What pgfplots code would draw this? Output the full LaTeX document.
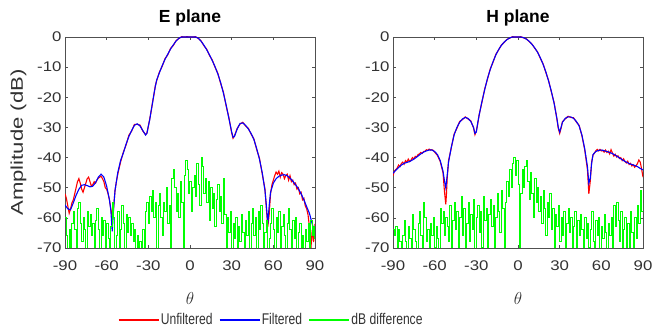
\documentclass[border=0pt]{standalone}
\usepackage{pgfplots}
\pgfplotsset{compat=1.18}
\usepackage{pgfplotstable}
\usepackage{fontspec}
\setmainfont{Liberation Sans}
\newfontfamily\tickfont{Liberation Sans}[FakeStretch=1.2]
\newfontfamily\legfont{Liberation Sans}[FakeStretch=0.78]
\newfontfamily\ylabfont{Liberation Sans}[FakeStretch=1.3]
\definecolor{mred}{RGB}{255,0,0}
\definecolor{mblue}{RGB}{0,0,255}
\definecolor{mgreen}{RGB}{0,255,0}
\definecolor{axgray}{RGB}{80,80,80}
\definecolor{txtgray}{RGB}{50,50,50}

% ---------------- E plane ----------------
\pgfplotstableread[row sep=\\]{x y\\
-90 -55.7\\ -88 -57\\ -86 -57.3\\ -84 -55\\ -82 -52.5\\ -80 -50.5\\ -78 -49.2\\ -76 -49\\ -74 -49.3\\ -72 -49.7\\ -70 -49.5\\ -68 -48.3\\ -66 -46.5\\ -64 -45.5\\ -62 -46.5\\ -60 -49.5\\ -58 -54\\ -57 -57.5\\ -56 -64.5\\ -55 -57\\ -54 -51\\ -52 -45\\ -50 -41\\ -48 -38.5\\ -46 -35.5\\ -44 -33\\ -42 -31\\ -40 -29.3\\ -38 -28.8\\ -36 -29.5\\ -34 -31\\ -32 -32.5\\ -31 -32\\ -30 -29.5\\ -29 -27.5\\ -28 -24.5\\ -27 -22\\ -26 -19\\ -25 -16.5\\ -24 -14.3\\ -22 -11.8\\ -20 -9.5\\ -18 -7.4\\ -16 -5.7\\ -14 -4\\ -12 -2.6\\ -10 -1.3\\ -8 -0.4\\ -6 0\\ -4 0\\ -2 0\\ 0 0\\ 2 0\\ 4 0\\ 6 -0.4\\ 8 -1.4\\ 10 -2.7\\ 12 -4.2\\ 14 -5.9\\ 16 -7.8\\ 18 -9.8\\ 20 -12.2\\ 22 -15\\ 24 -18.5\\ 26 -22.5\\ 28 -27\\ 30 -31.5\\ 31 -33.3\\ 32 -33\\ 34 -30.5\\ 36 -28.7\\ 38 -28.5\\ 40 -29.3\\ 42 -30.5\\ 44 -32\\ 46 -34\\ 48 -37\\ 50 -40.5\\ 52 -45\\ 54 -51\\ 55 -56\\ 56 -62\\ 57 -56\\ 58 -51.5\\ 60 -48.5\\ 62 -47\\ 64 -46.2\\ 66 -45.8\\ 68 -45.7\\ 70 -46\\ 72 -46.8\\ 74 -47.8\\ 76 -49\\ 78 -50.3\\ 80 -52\\ 82 -54\\ 84 -56.3\\ 86 -58.5\\ 88 -62\\ 90 -65\\
}\Eblue

\pgfplotstableread[row sep=\\]{x y\\
-90 -52\\ -89 -53.5\\ -88 -56\\ -87 -58.5\\ -86 -57\\ -85 -55\\ -84 -54\\ -83 -52\\ -82 -50\\ -81 -48\\ -80 -47\\ -79 -48.5\\ -78 -50.5\\ -77 -51.5\\ -76 -50\\ -75 -48.5\\ -74 -47\\ -73 -46.5\\ -72 -48\\ -71 -49.5\\ -70 -49\\ -69 -48\\ -68 -48.5\\ -67 -47.5\\ -66 -46.8\\ -65 -46.5\\ -64 -46.2\\ -63 -47\\ -62 -48\\ -61 -50\\ -60 -50.5\\ -59 -52\\ -58 -54\\ -57 -57\\ -56 -60\\ -55.5 -55\\ -55 -56.5\\ -54 -51\\ -53 -48\\ -52 -45.5\\ -51 -43.5\\ -50 -41.5\\ -48 -38.2\\ -46 -35.8\\ -44 -32.6\\ -42 -31.2\\ -40 -29\\ -38 -29\\ -36 -29.2\\ -34 -31.2\\ -32 -32.4\\ -31 -31.8\\ -30 -29.7\\ -29 -27.2\\ -28 -24.8\\ -27 -21.7\\ -26 -19.3\\ -25 -16.2\\ -24 -14.5\\ -22 -11.6\\ -20 -9.7\\ -18 -7.2\\ -16 -5.9\\ -14 -3.8\\ -12 -2.8\\ -10 -1.2\\ -8 -0.5\\ -6 0.1\\ -4 0\\ -2 0.1\\ 0 0\\ 2 0\\ 4 0.1\\ 6 -0.5\\ 8 -1.3\\ 10 -2.9\\ 12 -4\\ 14 -6.1\\ 16 -7.6\\ 18 -10\\ 20 -12\\ 22 -15.3\\ 24 -18.2\\ 26 -22.8\\ 28 -26.7\\ 30 -31.8\\ 31 -33.6\\ 32 -32.8\\ 34 -30.3\\ 36 -28.9\\ 38 -28.3\\ 40 -29.5\\ 42 -30.3\\ 44 -32.2\\ 46 -33.8\\ 48 -37.3\\ 50 -40.2\\ 52 -45.4\\ 54 -50.5\\ 55 -57\\ 56 -63\\ 57 -59\\ 58 -52\\ 59 -49\\ 60 -47.5\\ 61 -46\\ 62 -44.8\\ 63 -45.5\\ 64 -44.5\\ 65 -46.5\\ 66 -45\\ 67 -45.5\\ 68 -47\\ 69 -46\\ 70 -45.5\\ 71 -47.5\\ 72 -46\\ 73 -48\\ 74 -47.5\\ 75 -49\\ 76 -48.5\\ 77 -50.5\\ 78 -50\\ 79 -52\\ 80 -51.5\\ 81 -54\\ 82 -53.5\\ 83 -56\\ 84 -57\\ 85 -59\\ 86 -63\\ 87 -70.5\\ 88 -64\\ 89 -68\\ 90 -62\\
}\Ered

\pgfplotstableread[row sep=\\]{x y\\
-90 -60\\ -89 -66\\ -88 -72\\ -87 -64\\ -86 -72\\ -85 -62\\ -84 -58\\ -83 -64\\ -82 -72\\ -81 -57\\ -80 -55\\ -79 -62\\ -78 -68\\ -77 -60\\ -76 -64\\ -75 -72\\ -74 -58\\ -73 -63\\ -72 -59\\ -71 -66\\ -70 -62\\ -69 -72\\ -68 -61\\ -67 -57\\ -66 -64\\ -65 -72\\ -64 -60\\ -63 -66\\ -62 -61\\ -61 -72\\ -60 -62\\ -59 -67\\ -58 -72\\ -57 -63\\ -56 -55\\ -55 -60\\ -54 -72\\ -53 -66\\ -52 -58\\ -51 -72\\ -50 -64\\ -49 -56\\ -48 -62\\ -47 -72\\ -46 -59\\ -45 -65\\ -44 -60\\ -43 -66\\ -42 -62\\ -41 -68\\ -40 -64\\ -39 -72\\ -38 -66\\ -37 -72\\ -36 -68\\ -35 -72\\ -34 -64\\ -33 -72\\ -32 -58\\ -31 -55\\ -30 -62\\ -29 -53\\ -28 -58\\ -27 -51\\ -26 -60\\ -25 -55\\ -24 -72\\ -23 -56\\ -22 -52\\ -21 -60\\ -20 -66\\ -19 -55\\ -18 -58\\ -17 -50\\ -16 -62\\ -15 -56\\ -14 -72\\ -13 -47\\ -12 -44\\ -11 -50\\ -10 -58\\ -9 -52\\ -8 -60\\ -7 -48\\ -6 -55\\ -5 -72\\ -4 -46\\ -3 -41\\ -2 -44\\ -1 -52\\ 0 -48\\ 1 -58\\ 2 -50\\ 3 -46\\ 4 -53\\ 5 -42\\ 6 -49\\ 7 -56\\ 8 -40\\ 9 -43\\ 10 -52\\ 11 -47\\ 12 -55\\ 13 -48\\ 14 -61\\ 15 -50\\ 16 -57\\ 17 -52\\ 18 -63\\ 19 -54\\ 20 -49\\ 21 -58\\ 22 -53\\ 23 -62\\ 24 -47\\ 25 -59\\ 26 -72\\ 27 -60\\ 28 -65\\ 29 -58\\ 30 -72\\ 31 -62\\ 32 -67\\ 33 -60\\ 34 -72\\ 35 -63\\ 36 -68\\ 37 -59\\ 38 -65\\ 39 -72\\ 40 -61\\ 41 -66\\ 42 -58\\ 43 -72\\ 44 -62\\ 45 -57\\ 46 -66\\ 47 -60\\ 48 -72\\ 49 -58\\ 50 -64\\ 51 -56\\ 52 -62\\ 53 -72\\ 54 -65\\ 55 -61\\ 56 -72\\ 57 -67\\ 58 -62\\ 59 -57\\ 60 -64\\ 61 -72\\ 62 -60\\ 63 -65\\ 64 -58\\ 65 -72\\ 66 -63\\ 67 -59\\ 68 -66\\ 69 -72\\ 70 -62\\ 71 -57\\ 72 -64\\ 73 -72\\ 74 -61\\ 75 -67\\ 76 -60\\ 77 -72\\ 78 -65\\ 79 -62\\ 80 -72\\ 81 -66\\ 82 -72\\ 83 -64\\ 84 -68\\ 85 -62\\ 86 -72\\ 87 -61\\ 88 -66\\ 89 -63\\ 90 -67\\
}\Egreen

% ---------------- H plane ----------------
\pgfplotstableread[row sep=\\]{x y\\
-90 -45.2\\ -88 -44.2\\ -86 -43.3\\ -84 -42.5\\ -82 -41.9\\ -80 -41.6\\ -78 -41.3\\ -76 -40.8\\ -74 -40.2\\ -72 -39.5\\ -70 -38.8\\ -68 -38.2\\ -66 -37.8\\ -64 -37.5\\ -62 -37.5\\ -60 -38\\ -58 -39\\ -56 -41\\ -54 -44.5\\ -53 -47.5\\ -52 -50\\ -51 -46\\ -50 -41.5\\ -48 -36.5\\ -46 -32.5\\ -44 -30\\ -42 -28.3\\ -40 -27.2\\ -38 -26.7\\ -36 -27\\ -34 -28\\ -32 -30\\ -31 -32\\ -30 -31.5\\ -29 -28.5\\ -28 -26\\ -26 -21.5\\ -24 -17.5\\ -22 -13.8\\ -20 -10.8\\ -18 -8.2\\ -16 -6\\ -14 -4.2\\ -12 -2.8\\ -10 -1.7\\ -8 -0.9\\ -6 -0.3\\ -4 0\\ -2 0\\ 0 0\\ 2 0\\ 4 -0.2\\ 6 -0.7\\ 8 -1.4\\ 10 -2.4\\ 12 -3.6\\ 14 -5\\ 16 -6.8\\ 18 -9\\ 20 -11.5\\ 22 -14.6\\ 24 -18\\ 26 -22\\ 28 -27\\ 29 -30\\ 30 -31.5\\ 31 -30\\ 32 -28.3\\ 34 -27\\ 36 -26.5\\ 38 -26.5\\ 40 -27\\ 42 -28\\ 44 -29.5\\ 46 -32.5\\ 48 -37\\ 50 -43\\ 51 -48.5\\ 52 -47\\ 53 -42\\ 54 -39\\ 56 -38\\ 58 -37.6\\ 60 -37.5\\ 62 -37.7\\ 64 -38\\ 66 -38.3\\ 68 -38.7\\ 70 -39.2\\ 72 -39.8\\ 74 -40.4\\ 76 -41\\ 78 -41.5\\ 80 -42\\ 82 -42.3\\ 84 -42.6\\ 86 -43\\ 88 -43.6\\ 90 -44.1\\
}\Hblue

\pgfplotstableread[row sep=\\]{x y\\
-90 -46\\ -89 -44.5\\ -88 -44\\ -87 -43.5\\ -86 -42.5\\ -85 -43\\ -84 -42\\ -83 -41.5\\ -82 -42.2\\ -81 -41\\ -80 -41.5\\ -79 -40.5\\ -78 -41.3\\ -77 -40.8\\ -76 -40\\ -75 -40.5\\ -74 -39.6\\ -73 -39.8\\ -72 -39\\ -71 -38.8\\ -70 -38.3\\ -69 -38.6\\ -68 -38\\ -67 -37.9\\ -66 -37.4\\ -65 -37.6\\ -64 -37.2\\ -63 -37.5\\ -62 -37.4\\ -61 -37.6\\ -60 -38.2\\ -58 -39.3\\ -56 -41.3\\ -54 -45\\ -53 -51\\ -52 -55.5\\ -51.5 -52\\ -51 -47\\ -50 -41\\ -48 -36.7\\ -46 -32.2\\ -44 -30.3\\ -42 -28\\ -40 -27.4\\ -38 -26.5\\ -36 -27.2\\ -34 -27.8\\ -32 -30.2\\ -31 -32.4\\ -30 -31.2\\ -29 -28.8\\ -28 -25.8\\ -26 -21.7\\ -24 -17.3\\ -22 -14\\ -20 -10.6\\ -18 -8.4\\ -16 -5.8\\ -14 -4.3\\ -12 -2.7\\ -10 -1.8\\ -8 -0.8\\ -6 -0.4\\ -4 0.1\\ -2 0\\ 0 0\\ 2 0.1\\ 4 -0.3\\ 6 -0.6\\ 8 -1.5\\ 10 -2.3\\ 12 -3.7\\ 14 -4.9\\ 16 -7\\ 18 -8.8\\ 20 -11.7\\ 22 -14.4\\ 24 -18.2\\ 26 -21.8\\ 28 -27.2\\ 29 -30.3\\ 30 -32\\ 31 -30.3\\ 32 -28.1\\ 34 -27.2\\ 36 -26.3\\ 38 -26.7\\ 40 -26.8\\ 42 -28.2\\ 44 -29.3\\ 46 -32.7\\ 48 -37.3\\ 50 -44\\ 51 -52\\ 52 -48\\ 53 -41.5\\ 54 -39.2\\ 56 -37.8\\ 57 -37.3\\ 58 -37.8\\ 59 -37.3\\ 60 -37.8\\ 61 -37.6\\ 62 -38.2\\ 63 -37.5\\ 64 -38.3\\ 65 -37.9\\ 66 -38.8\\ 67 -37.4\\ 68 -38.5\\ 69 -39.5\\ 70 -38.9\\ 71 -39.8\\ 72 -39.4\\ 73 -40.3\\ 74 -40\\ 75 -41\\ 76 -40.4\\ 77 -41.3\\ 78 -41.8\\ 79 -41.2\\ 80 -42.3\\ 81 -41.9\\ 82 -42.8\\ 83 -42.4\\ 84 -43.2\\ 85 -42.7\\ 86 -42\\ 87 -40.8\\ 88 -41.5\\ 89 -43.8\\ 90 -46.5\\
}\Hred

\pgfplotstableread[row sep=\\]{x y\\
-90 -64\\ -89 -66\\ -88 -63\\ -87 -70\\ -86 -64\\ -85 -68\\ -84 -72\\ -83 -66\\ -82 -61\\ -81 -68\\ -80 -72\\ -79 -63\\ -78 -67\\ -77 -72\\ -76 -59\\ -75 -64\\ -74 -68\\ -73 -72\\ -72 -62\\ -71 -58\\ -70 -66\\ -69 -72\\ -68 -55\\ -67 -60\\ -66 -68\\ -65 -64\\ -64 -72\\ -63 -62\\ -62 -66\\ -61 -60\\ -60 -70\\ -59 -63\\ -58 -67\\ -57 -72\\ -56 -57\\ -55 -62\\ -54 -58\\ -53 -66\\ -52 -60\\ -51 -63\\ -50 -68\\ -49 -56\\ -48 -72\\ -47 -61\\ -46 -55\\ -45 -64\\ -44 -58\\ -43 -70\\ -42 -60\\ -41 -53\\ -40 -66\\ -39 -57\\ -38 -72\\ -37 -62\\ -36 -55\\ -35 -68\\ -34 -59\\ -33 -64\\ -32 -54\\ -31 -72\\ -30 -60\\ -29 -56\\ -28 -65\\ -27 -58\\ -26 -70\\ -25 -53\\ -24 -61\\ -23 -57\\ -22 -72\\ -21 -59\\ -20 -54\\ -19 -63\\ -18 -56\\ -17 -72\\ -16 -60\\ -15 -52\\ -14 -58\\ -13 -65\\ -12 -51\\ -11 -57\\ -10 -72\\ -9 -55\\ -8 -48\\ -7 -53\\ -6 -44\\ -5 -50\\ -4 -42\\ -3 -40\\ -2 -46\\ -1 -41\\ 0 -49\\ 1 -72\\ 2 -52\\ 3 -44\\ 4 -50\\ 5 -43\\ 6 -41\\ 7 -48\\ 8 -54\\ 9 -45\\ 10 -52\\ 11 -60\\ 12 -47\\ 13 -55\\ 14 -50\\ 15 -58\\ 16 -53\\ 17 -62\\ 18 -51\\ 19 -57\\ 20 -66\\ 21 -55\\ 22 -60\\ 23 -52\\ 24 -64\\ 25 -57\\ 26 -72\\ 27 -59\\ 28 -63\\ 29 -56\\ 30 -68\\ 31 -60\\ 32 -66\\ 33 -58\\ 34 -72\\ 35 -62\\ 36 -57\\ 37 -65\\ 38 -60\\ 39 -70\\ 40 -63\\ 41 -58\\ 42 -72\\ 43 -61\\ 44 -66\\ 45 -59\\ 46 -64\\ 47 -72\\ 48 -60\\ 49 -67\\ 50 -62\\ 51 -70\\ 52 -64\\ 53 -58\\ 54 -68\\ 55 -72\\ 56 -61\\ 57 -66\\ 58 -60\\ 59 -72\\ 60 -63\\ 61 -67\\ 62 -59\\ 63 -65\\ 64 -72\\ 65 -62\\ 66 -66\\ 67 -60\\ 68 -70\\ 69 -56\\ 70 -63\\ 71 -55\\ 72 -61\\ 73 -68\\ 74 -58\\ 75 -72\\ 76 -64\\ 77 -60\\ 78 -70\\ 79 -62\\ 80 -72\\ 81 -58\\ 82 -65\\ 83 -72\\ 84 -60\\ 85 -67\\ 86 -56\\ 87 -62\\ 88 -51\\ 89 -58\\ 90 -55\\
}\Hgreen

\pgfplotsset{
  myax/.style={
    scale only axis, width=250pt, height=211pt,
    xmin=-90, xmax=90, ymin=-70, ymax=0,
    xtick={-90,-60,...,90}, ytick={-70,-60,...,0},
    tick align=inside, major tick length=3pt,
    axis line style={axgray, line width=0.6pt},
    every tick/.style={axgray, line width=0.6pt},
    /pgf/number format/assume math mode=true,
    tick label style={font=\tickfont\fontsize{14}{14}\selectfont, text=txtgray},
    xticklabel style={yshift=-9pt},
    xlabel={$\theta$},
    xlabel style={font=\fontsize{17}{17}\selectfont, text=txtgray, at={(axis description cs:0.5,-0.237)}, anchor=center},
    title style={font=\bfseries\fontsize{17.5}{17.5}\selectfont, at={(axis description cs:0.5,1.062)}, anchor=center},
    clip=true,
  }
}

\begin{document}
\begin{tikzpicture}
\path[use as bounding box] (0,0) rectangle (652pt,331pt);
\begin{axis}[myax, at={(65pt,83pt)}, anchor=south west,
  title={E plane},
  ylabel={Amplitude (dB)},
  ylabel style={font=\ylabfont\fontsize{17}{17}\selectfont, text=txtgray, at={(axis description cs:-0.186,0.5)}, anchor=center, rotate=0},
]
\addplot[mred, line width=1.1pt] table {\Ered};
\addplot[mblue, line width=1.1pt] table {\Eblue};
\addplot[mgreen, line width=1pt, const plot] table {\Egreen};
\end{axis}
\begin{axis}[myax, at={(393pt,83pt)}, anchor=south west,
  title={H plane},
]
\addplot[mred, line width=1.1pt] table {\Hred};
\addplot[mblue, line width=1.1pt] table {\Hblue};
\addplot[mgreen, line width=1pt, const plot] table {\Hgreen};
\end{axis}
\begin{axis}[at={(65pt,83pt)}, anchor=south west, scale only axis, width=250pt, height=211pt,
  xmin=0, xmax=1, ymin=0, ymax=1, hide axis,
  legend columns=3,
  legend style={at={(axis description cs:0.824,-0.341)}, anchor=center, draw=none, fill=none,
    font=\legfont\fontsize{15.5}{15.5}\selectfont, text=txtgray,
    /tikz/every even column/.append style={column sep=5pt},
    nodes={inner sep=1.5pt}},
  legend image code/.code={\draw[#1, line width=1.3pt] (0pt,0pt) -- (40pt,0pt);},
]
\addlegendimage{mred}
\addlegendentry{Unfiltered}
\addlegendimage{mblue}
\addlegendentry{Filtered}
\addlegendimage{mgreen}
\addlegendentry{dB difference}
\end{axis}
\end{tikzpicture}
\end{document}
